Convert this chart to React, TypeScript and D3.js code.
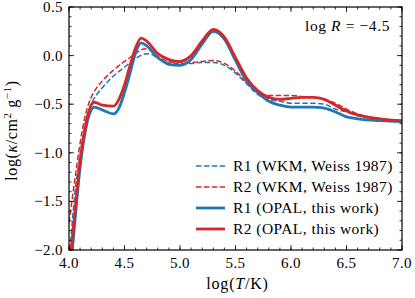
import React from "react";
import * as d3 from "d3";

// log T grid and opacities
const tR1opal = [4.03, 4.06, 4.1, 4.15, 4.2, 4.23, 4.3, 4.4, 4.45, 4.5, 4.55, 4.6, 4.65, 4.7, 4.8, 4.9, 5.0, 5.1, 5.2, 5.3, 5.4, 5.5, 5.6, 5.7, 5.8, 5.9, 6.0, 6.1, 6.2, 6.3, 6.4, 6.5, 6.6, 6.8, 7.0];
const kR1opal = [-2.0, -1.62, -1.15, -0.76, -0.56, -0.53, -0.56, -0.6, -0.54, -0.38, -0.18, 0.03, 0.13, 0.1, -0.02, -0.09, -0.1, -0.04, 0.12, 0.25, 0.17, -0.05, -0.26, -0.38, -0.47, -0.51, -0.53, -0.53, -0.53, -0.54, -0.58, -0.63, -0.65, -0.67, -0.68];

const tR2opal = [4.02, 4.05, 4.1, 4.15, 4.2, 4.23, 4.3, 4.4, 4.45, 4.5, 4.55, 4.6, 4.65, 4.7, 4.8, 4.9, 5.0, 5.1, 5.2, 5.3, 5.4, 5.5, 5.6, 5.7, 5.8, 5.9, 6.0, 6.1, 6.2, 6.3, 6.4, 6.5, 6.6, 6.8, 7.0];
const kR2opal = [-2.0, -1.65, -1.08, -0.72, -0.51, -0.48, -0.51, -0.52, -0.45, -0.3, -0.1, 0.08, 0.18, 0.15, 0.02, -0.04, -0.06, 0.0, 0.15, 0.27, 0.19, -0.02, -0.23, -0.36, -0.43, -0.45, -0.44, -0.43, -0.43, -0.45, -0.51, -0.57, -0.61, -0.65, -0.67];

const tR1wkm = [4.01, 4.05, 4.1, 4.15, 4.2, 4.25, 4.3, 4.4, 4.5, 4.6, 4.7, 4.75, 4.8, 4.9, 5.0, 5.1, 5.2, 5.3, 5.4, 5.5, 5.6, 5.7, 5.8, 5.9, 6.0, 6.1, 6.2, 6.3, 6.4, 6.5, 6.6, 6.8, 7.0];
const kR1wkm = [-2.0, -1.45, -1.02, -0.68, -0.5, -0.4, -0.33, -0.21, -0.12, -0.03, 0.02, 0.01, -0.03, -0.07, -0.08, -0.08, -0.07, -0.07, -0.1, -0.18, -0.29, -0.4, -0.45, -0.47, -0.49, -0.49, -0.49, -0.5, -0.55, -0.58, -0.62, -0.66, -0.68];

const tR2wkm = [4.0, 4.05, 4.1, 4.15, 4.2, 4.25, 4.3, 4.4, 4.5, 4.6, 4.65, 4.7, 4.8, 4.9, 5.0, 5.1, 5.2, 5.3, 5.4, 5.5, 5.6, 5.7, 5.8, 5.9, 6.0, 6.1, 6.2, 6.3, 6.4, 6.5, 6.6, 6.8, 7.0];
const kR2wkm = [-1.72, -1.3, -0.9, -0.6, -0.43, -0.33, -0.26, -0.15, -0.06, 0.02, 0.06, 0.07, -0.01, -0.06, -0.07, -0.07, -0.06, -0.05, -0.08, -0.16, -0.27, -0.37, -0.41, -0.41, -0.41, -0.42, -0.43, -0.45, -0.49, -0.55, -0.6, -0.65, -0.67];

const xMajor = [4.0, 4.5, 5.0, 5.5, 6.0, 6.5, 7.0];
const yMajor = [-2.0, -1.5, -1.0, -0.5, 0.0, 0.5];

const legendLabels = ["R1 (WKM, Weiss 1987)", "R2 (WKM, Weiss 1987)", "R1 (OPAL, this work)", "R2 (OPAL, this work)"];

const BLUE = "#1f77b4";
const RED = "#d62728";
const FONT = "'Liberation Serif', 'Times New Roman', serif";

const W = 415, H = 298;
const L = 69, R = 402, T = 7, B = 250;

export default function App() {
  const x = d3.scaleLinear().domain([4, 7]).range([L, R]);
  const y = d3.scaleLinear().domain([-2, 0.5]).range([B, T]);
  const line = d3.line<[number, number]>()
    .x(d => x(d[0]))
    .y(d => y(d[1]))
    .curve(d3.curveMonotoneX);

  const zip = (a: number[], b: number[]) => a.map((v, i) => [v, b[i]] as [number, number]);

  const series = [
    { d: zip(tR1wkm, kR1wkm), color: BLUE, w: 1.5, dash: "5.5 2.4" },
    { d: zip(tR2wkm, kR2wkm), color: RED, w: 1.5, dash: "5.5 2.4" },
    { d: zip(tR1opal, kR1opal), color: BLUE, w: 2.8, dash: "" },
    { d: zip(tR2opal, kR2opal), color: RED, w: 2.8, dash: "" },
  ];

  const xMinor = d3.range(40, 71).map(v => v / 10);
  const yMinor = d3.range(-20, 6).map(v => v / 10);
  const fmt = (v: number) => (v < 0 ? "\u2212" : "") + Math.abs(v).toFixed(1);

  return (
    <svg width={W} height={H} style={{ position: "absolute", left: 0, top: 0, background: "#fff" }} fontFamily={FONT}>
      <defs>
        <clipPath id="plot">
          <rect x={L} y={T} width={R - L} height={B - T} />
        </clipPath>
      </defs>
      <g clipPath="url(#plot)" fill="none">
        {series.map((s, i) => (
          <path key={i} d={line(s.d) || ""} stroke={s.color} strokeWidth={s.w}
            strokeDasharray={s.dash || undefined} strokeLinejoin="round" />
        ))}
      </g>
      {/* ticks, inward on all sides */}
      <g stroke="#000" strokeWidth={0.8}>
        {xMinor.map((v, i) => (
          <g key={"xm" + i}>
            <line x1={x(v)} x2={x(v)} y1={B} y2={B - 2.5} />
            <line x1={x(v)} x2={x(v)} y1={T} y2={T + 2.5} />
          </g>
        ))}
        {xMajor.map((v, i) => (
          <g key={"xM" + i}>
            <line x1={x(v)} x2={x(v)} y1={B} y2={B - 5} />
            <line x1={x(v)} x2={x(v)} y1={T} y2={T + 5} />
          </g>
        ))}
        {yMinor.map((v, i) => (
          <g key={"ym" + i}>
            <line x1={L} x2={L + 2.5} y1={y(v)} y2={y(v)} />
            <line x1={R} x2={R - 2.5} y1={y(v)} y2={y(v)} />
          </g>
        ))}
        {yMajor.map((v, i) => (
          <g key={"yM" + i}>
            <line x1={L} x2={L + 5} y1={y(v)} y2={y(v)} />
            <line x1={R} x2={R - 5} y1={y(v)} y2={y(v)} />
          </g>
        ))}
      </g>
      <rect x={L} y={T} width={R - L} height={B - T} fill="none" stroke="#000" strokeWidth={1.2} />
      <g fontSize={15} fill="#000">
        {xMajor.map((v, i) => (
          <text key={"xl" + i} x={x(v)} y={B + 18} textAnchor="middle" letterSpacing={0.4}>{fmt(v)}</text>
        ))}
        {yMajor.map((v, i) => (
          <text key={"yl" + i} x={L - 6} y={y(v) + 5} textAnchor="end" letterSpacing={0.4}>{fmt(v)}</text>
        ))}
        <text x={(L + R) / 2 + 2} y={289} textAnchor="middle" fontSize={16} letterSpacing={0.8}>
          log(<tspan fontStyle="italic">T</tspan>/K)
        </text>
        <text transform={`translate(17, ${(T + B) / 2 + 2}) rotate(-90)`} textAnchor="middle" fontSize={16} letterSpacing={0.6}>
          log(<tspan fontStyle="italic">κ</tspan>/cm<tspan dy={-6} fontSize={11}>2</tspan><tspan dy={6}> g</tspan><tspan dy={-6} fontSize={11}>−1</tspan><tspan dy={6}>)</tspan>
        </text>
        <text x={390} y={31} textAnchor="end" fontSize={15.5} letterSpacing={0.6}>
          log <tspan fontStyle="italic">R</tspan> = −4.5
        </text>
      </g>
      {/* legend */}
      <g fontSize={15.5}>
        {series.map((s, i) => {
          const ly = 166 + i * 21;
          return (
            <g key={"lg" + i}>
              <line x1={196} x2={225} y1={ly} y2={ly} stroke={s.color} strokeWidth={s.w}
                strokeDasharray={s.dash || undefined} />
              <text x={233} y={ly + 5} fill="#000" letterSpacing={0.45}>{legendLabels[i]}</text>
            </g>
          );
        })}
      </g>
    </svg>
  );
}
